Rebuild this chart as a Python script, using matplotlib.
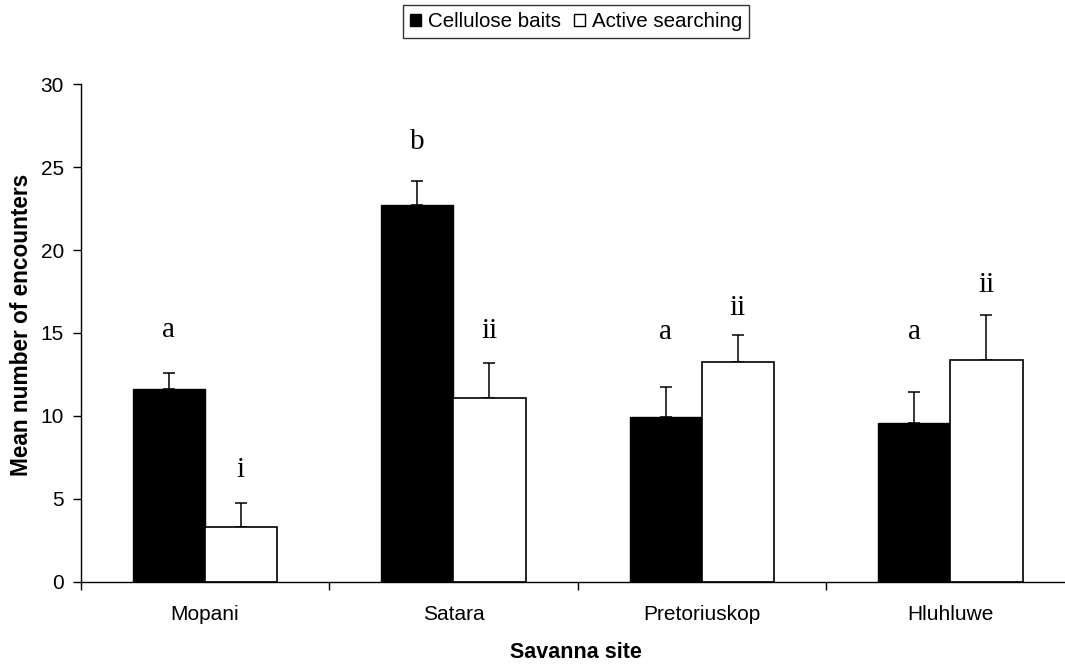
import matplotlib
matplotlib.use("Agg")
from matplotlib import pyplot as plt
from matplotlib.patches import Patch
import numpy as np

# mean encounters per site, with upper standard error
sites = ["Mopani", "Satara", "Pretoriuskop", "Hluhluwe"]
bait_mean = [11.6, 22.7, 9.95, 9.55]
bait_err = [1.0, 1.45, 1.8, 1.9]
search_mean = [3.3, 11.05, 13.25, 13.35]
search_err = [1.45, 2.15, 1.6, 2.75]

# significance letters and the height they sit at
bait_letters = ["a", "b", "a", "a"]
bait_letter_y = [14.75, 26.1, 14.65, 14.65]
search_letters = ["i", "ii", "ii", "ii"]
search_letter_y = [6.3, 14.7, 16.1, 17.45]

W, H = 1065, 666
fig = plt.figure(figsize=(W / 100, H / 100), dpi=100)
# plot area runs off the right edge of the figure
ax = fig.add_axes([80.7 / W, 84.3 / H, 994 / W, 497.5 / H])

sans = "Liberation Sans"
serif = "Liberation Serif"

x = np.arange(len(sites)) + 0.5
bw = 0.29
ax.bar(x - bw / 2, bait_mean, bw, color="black", edgecolor="black", linewidth=1.0, zorder=2)
ax.bar(x + bw / 2, search_mean, bw, color="white", edgecolor="black", linewidth=1.2, zorder=2)
ax.errorbar(x - bw / 2, bait_mean, yerr=[np.zeros(4), bait_err], fmt="none",
            ecolor="black", elinewidth=1.1, capsize=4, capthick=1.1, zorder=1)
ax.errorbar(x + bw / 2, search_mean, yerr=[np.zeros(4), search_err], fmt="none",
            ecolor="black", elinewidth=1.1, capsize=4, capthick=1.1, zorder=1)

for i in range(len(sites)):
    ax.text(x[i] - bw / 2, bait_letter_y[i], bait_letters[i], ha="center", va="baseline",
            fontsize=21, family=serif)
    ax.text(x[i] + bw / 2, search_letter_y[i], search_letters[i], ha="center", va="baseline",
            fontsize=21, family=serif)

ax.set_xlim(0, 4)
ax.set_ylim(0, 30)
ax.set_yticks(np.arange(0, 31, 5))
ax.set_xticks(np.arange(0, 5))
ax.set_xticklabels([])
ax.set_xticks(x, minor=True)
ax.set_xticklabels(sites, minor=True)
ax.tick_params(axis="x", which="major", direction="out", length=6, width=1)
ax.tick_params(axis="x", which="minor", length=0, pad=17, labelsize=15)
ax.tick_params(axis="y", direction="out", length=6, width=1, pad=6, labelsize=15)
for lab in ax.get_xticklabels(minor=True) + ax.get_yticklabels():
    lab.set_family(sans)

for s in ["top", "right"]:
    ax.spines[s].set_visible(False)
ax.spines["left"].set_linewidth(1)
ax.spines["bottom"].set_linewidth(1)

fig.text(576 / W, 1 - 652 / H, "Savanna site", ha="center", va="center",
         fontsize=15.5, fontweight="bold", family=sans)
fig.text(22 / W, 1 - 325 / H, "Mean number of encounters", ha="center", va="center",
         rotation=90, fontsize=16.3, fontweight="bold", family=sans)

handles = [Patch(facecolor="black", edgecolor="black", linewidth=1),
           Patch(facecolor="white", edgecolor="black", linewidth=1)]
leg = fig.legend(handles, ["Cellulose baits", "Active searching"], loc="upper center",
                 bbox_to_anchor=(576 / W, 1 - 5 / H), ncol=2, frameon=True, fancybox=False,
                 handlelength=0.55, handleheight=0.55, handletextpad=0.35,
                 columnspacing=0.6, borderpad=0.35, borderaxespad=0,
                 prop={"family": sans, "size": 14.8})
leg.get_frame().set_edgecolor("black")
leg.get_frame().set_linewidth(1)

fig.savefig("out.png", dpi=100)
